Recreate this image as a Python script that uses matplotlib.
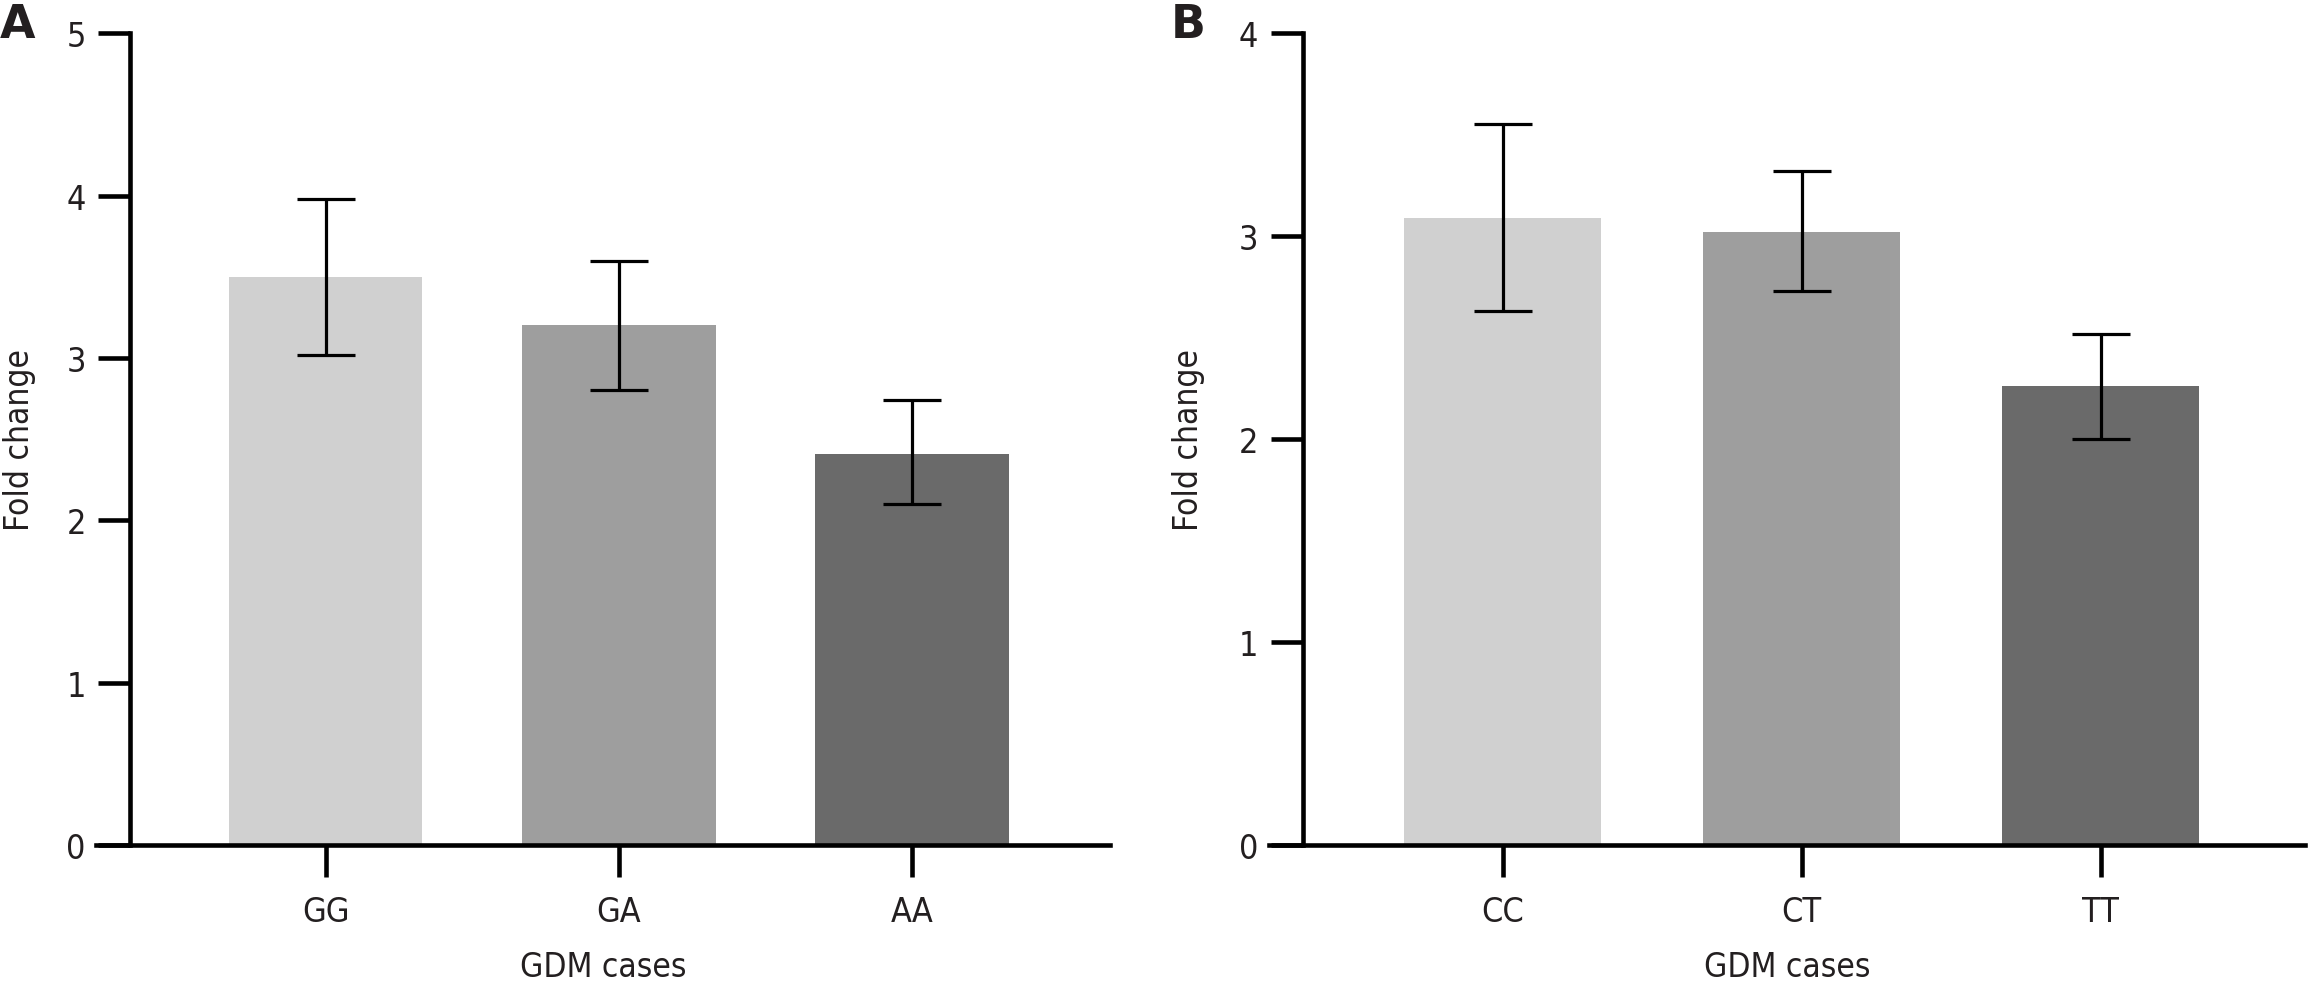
import matplotlib
matplotlib.use("Agg")
import matplotlib.pyplot as plt
import numpy as np

# Panel A data
cats_a = ["GG", "GA", "AA"]
vals_a = [3.50, 3.20, 2.41]
err_lo_a = [3.02, 2.80, 2.10]
err_hi_a = [3.98, 3.60, 2.74]

# Panel B data
cats_b = ["CC", "CT", "TT"]
vals_b = [3.09, 3.02, 2.26]
err_lo_b = [2.63, 2.73, 2.00]
err_hi_b = [3.55, 3.32, 2.52]

colors = ["#d0d0d0", "#9e9e9e", "#6a6a6a"]
txt = "#231f20"

W, H = 1563.0, 667.0
fig = plt.figure(figsize=(23.14, 9.87), dpi=100)

def fx(x):
    return x / W

def fy(y):
    return 1 - y / H

font = dict(family="DejaVu Sans", stretch="condensed")

def panel(x_left, x_axis, x_right, c0, spacing, ymax, cats, vals, lo, hi, label, lab_x, ylab_x):
    ax = fig.add_axes([fx(x_left), fy(572), fx(x_right - x_left), fy(23) - fy(572)])
    xl = (x_left - c0) / spacing
    xr = (x_right - c0) / spacing
    xs = (x_axis - c0) / spacing
    pos = np.arange(len(cats))
    v = np.array(vals)
    yerr = np.array([v - np.array(lo), np.array(hi) - v])
    ax.bar(pos, v, width=0.66, color=colors, zorder=1)
    ax.errorbar(pos, v, yerr=yerr, fmt="none", ecolor="black", elinewidth=2.3,
                capsize=21, capthick=2.3, zorder=2)
    ax.set_xlim(xl, xr)
    ax.set_ylim(0, ymax)
    ax.spines["top"].set_visible(False)
    ax.spines["right"].set_visible(False)
    ax.spines["left"].set_position(("data", xs))
    ax.spines["left"].set_bounds(0, ymax)
    for s in ("left", "bottom"):
        ax.spines[s].set_linewidth(3.3)
        ax.spines[s].set_color("black")
        ax.spines[s].set_zorder(3)
    ax.set_xticks(pos)
    ax.set_xticklabels(cats, color=txt, fontsize=24.5, **font)
    ax.set_yticks(np.arange(0, ymax + 1))
    ax.set_yticklabels([str(i) for i in range(ymax + 1)], color=txt, fontsize=24.5, **font)
    ax.tick_params(axis="both", length=23, width=3.3, color="black")
    ax.tick_params(axis="x", pad=13)
    ax.tick_params(axis="y", pad=9)
    ax.set_xlabel("GDM cases", color=txt, fontsize=24, **font)
    ax.set_ylabel("Fold change", color=txt, fontsize=24, **font)
    ax.yaxis.label.set_va("center")
    ax.xaxis.label.set_va("baseline")
    ax.yaxis.set_label_coords(fx(ylab_x - x_left) / fx(x_right - x_left), 0.5)
    ax.xaxis.set_label_coords(0.5, (fy(660) - fy(572)) / (fy(23) - fy(572)))
    fig.text(fx(lab_x), fy(17), label, fontsize=33, fontweight="bold", color=txt,
             ha="left", va="center", family="DejaVu Sans")
    return ax

panel(65, 88, 750, 220, 198, 5, cats_a, vals_a, err_lo_a, err_hi_a, "A", 0, 13)
panel(857, 880, 1557, 1015, 202, 4, cats_b, vals_b, err_lo_b, err_hi_b, "B", 791, 803)

fig.savefig("out.png", dpi=100)
